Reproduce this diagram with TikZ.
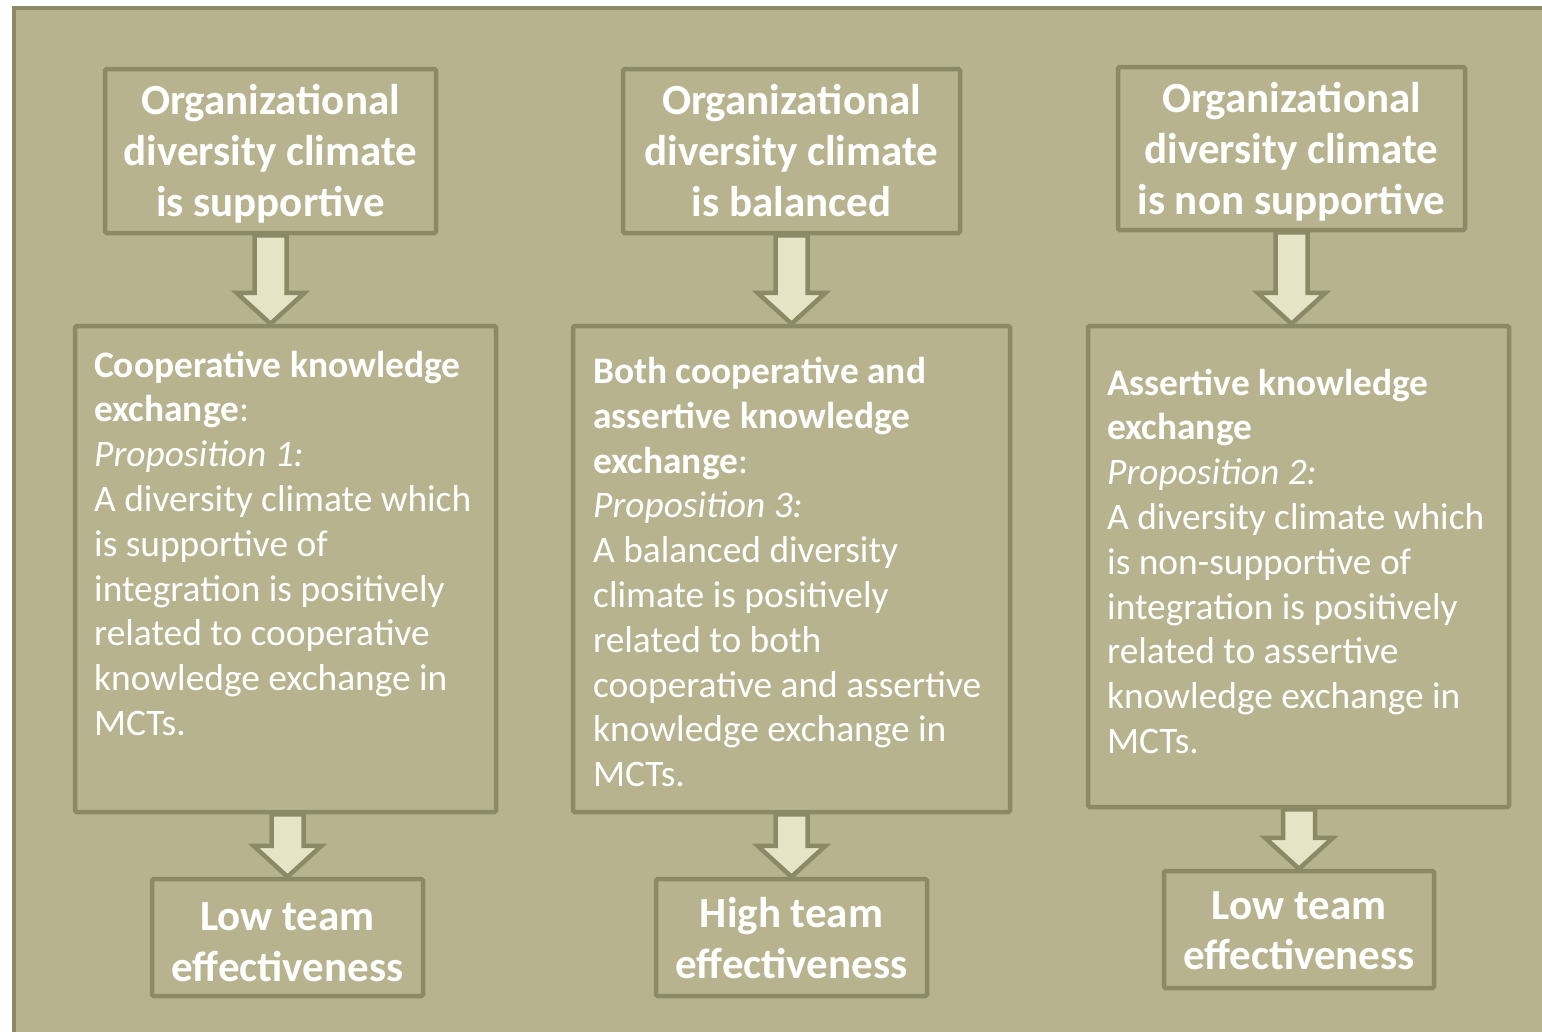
\documentclass[tikz,border=0pt]{standalone}
\usepackage{fontspec}
\setmainfont{Carlito}
\usetikzlibrary{calc}
\definecolor{panel}{HTML}{B8B38F}
\definecolor{edge}{HTML}{8C8967}
\definecolor{cream}{HTML}{E7E3C5}
\tikzset{
  frame/.style={draw=edge, line width=4.5pt, inner sep=0pt, rounded corners=1.5pt},
  headtext/.style={text=white, inner sep=0pt, font=\bfseries\fontsize{43}{51}\selectfont, align=center},
  bodytext/.style={text=white, inner sep=0pt, anchor=base west, font=\fontsize{37.4}{44.8}\selectfont},
  flowarrow/.style={draw=edge, fill=cream, line width=4.5pt, line join=miter},
}
% block arrow pointing down: #1 = top of shaft, #2 = tip
\newcommand{\flowdown}[2]{%
  \draw[flowarrow] let \p1=(#1), \p2=(#2) in
    (\x1-16pt,\y1) -- (\x1-16pt,\y2+31pt) -- (\x1-34pt,\y2+31pt) -- (\x1,\y2)
    -- (\x1+34pt,\y2+31pt) -- (\x1+16pt,\y2+31pt) -- (\x1+16pt,\y1) -- cycle;}
\begin{document}
\begin{tikzpicture}[x=1pt,y=-1pt]
\useasboundingbox (0,0) rectangle (1542,1031);
\clip (0,0) rectangle (1542,1031);
\fill[white] (0,0) rectangle (1542,1031);
\draw[fill=panel, draw=edge, line width=4.5pt] (14,8) rectangle (1590,1070);

% climate boxes
\node[frame, minimum width=331pt, minimum height=164pt] (T1) at (270.5,151) {};
\node[frame, minimum width=337pt, minimum height=164pt] (T2) at (791.5,151) {};
\node[frame, minimum width=347pt, minimum height=163pt] (T3) at (1291.5,148.5) {};
\node[headtext] (T1t) at ([yshift=-3pt]T1.center) {Organizational\\diversity climate\\is supportive};
\node[headtext] (T2t) at ([yshift=0pt]T2.center) {Organizational\\diversity climate\\is balanced};
\node[headtext] (T3t) at ([yshift=-3pt]T3.center) {Organizational\\diversity climate\\is non supportive};

% knowledge exchange boxes
\node[frame, minimum width=421pt, minimum height=486pt] (M1) at (285.5,569) {};
\node[frame, minimum width=437pt, minimum height=486pt] (M2) at (791.5,569) {};
\node[frame, minimum width=421pt, minimum height=481pt] (M3) at (1298.5,566.5) {};

\node[bodytext] (P1) at (94,377) {\parbox[t]{400pt}{\raggedright
  \textbf{Cooperative knowledge}\\
  \textbf{exchange}:\\
  \textit{Proposition 1:}\\
  A diversity climate which\\
  is supportive of\\
  integration is positively\\
  related to cooperative\\
  knowledge exchange in\\
  MCTs.}};
\node[bodytext] (P3) at (593,383.5) {\parbox[t]{410pt}{\raggedright
  \textbf{Both cooperative and}\\
  \textbf{assertive knowledge}\\
  \textbf{exchange}:\\
  \textit{Proposition 3:}\\
  A balanced diversity\\
  climate is positively\\
  related to both\\
  cooperative and assertive\\
  knowledge exchange in\\
  MCTs.}};
\node[bodytext] (P2) at (1107,395) {\parbox[t]{400pt}{\raggedright
  \textbf{Assertive knowledge}\\
  \textbf{exchange}\\
  \textit{Proposition 2:}\\
  A diversity climate which\\
  is non-supportive of\\
  integration is positively\\
  related to assertive\\
  knowledge exchange in\\
  MCTs.}};

% effectiveness boxes
\node[frame, minimum width=271pt, minimum height=117pt] (B1) at (287.5,937.5) {};
\node[frame, minimum width=271pt, minimum height=117pt] (B2) at (791.5,937.5) {};
\node[frame, minimum width=270pt, minimum height=117pt] (B3) at (1299,929.5) {};
\node[headtext, font=\bfseries\fontsize{43}{50.5}\selectfont] (B1t) at ([yshift=-4.5pt]B1.center) {Low team\\effectiveness};
\node[headtext, font=\bfseries\fontsize{43}{50.5}\selectfont] (B2t) at ([yshift=-0.5pt]B2.center) {High team\\effectiveness};
\node[headtext, font=\bfseries\fontsize{43}{50.5}\selectfont] (B3t) at ([yshift=-1pt]B3.center) {Low team\\effectiveness};

% arrows
\flowdown{T1.south}{T1.south |- M1.north}
\flowdown{T2.south}{T2.south |- M2.north}
\flowdown{T3.south}{T3.south |- M3.north}
\flowdown{B1.north |- M1.south}{B1.north}
\flowdown{B2.north |- M2.south}{B2.north}
\flowdown{B3.north |- M3.south}{B3.north}
\end{tikzpicture}
\end{document}
